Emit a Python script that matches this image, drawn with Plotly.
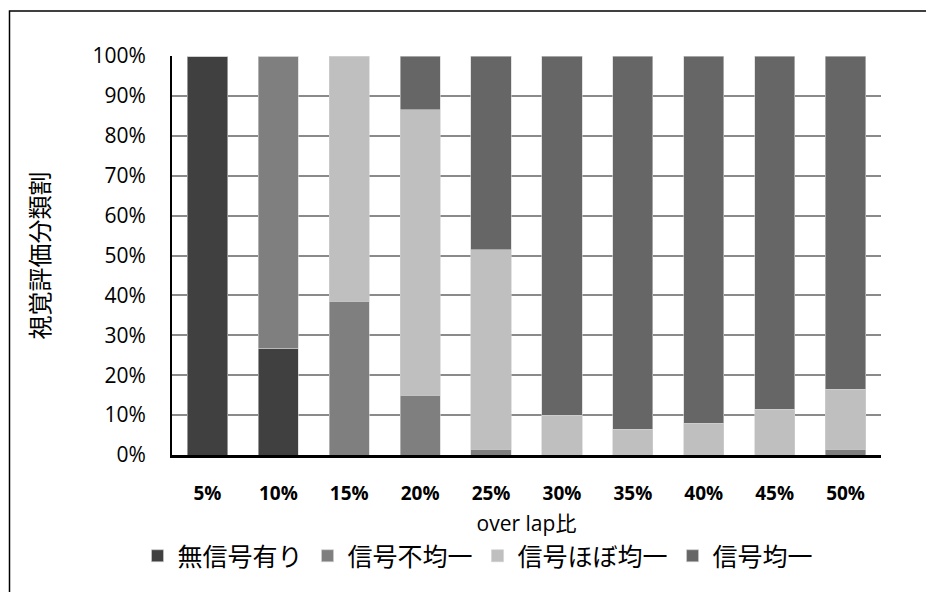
import plotly.graph_objects as go

# Overlap ratio categories
categories = ["5%", "10%", "15%", "20%", "25%", "30%", "35%", "40%", "45%", "50%"]

# Share (%) of each visual evaluation class per overlap ratio
no_signal = [100, 26.7, 0, 0, 0, 0, 0, 0, 0, 0]
uneven = [0, 73.3, 38.5, 15, 1.5, 0, 0, 0, 0, 1.5]
nearly_even = [0, 0, 61.5, 71.5, 50, 10, 6.5, 8, 11.5, 15]
even = [0, 0, 0, 13.5, 48.5, 90, 93.5, 92, 88.5, 83.5]

series_names = ["無信号有り", "信号不均一", "信号ほぼ均一", "信号均一"]
series_values = [no_signal, uneven, nearly_even, even]
series_colors = ["#404040", "#7f7f7f", "#bfbfbf", "#666666"]

y_ticks = list(range(0, 101, 10))
y_tick_text = [f"{v}%" for v in y_ticks]

fig = go.Figure()
for name, vals, col in zip(series_names, series_values, series_colors):
    fig.add_trace(go.Bar(
        x=categories, y=vals, name=name,
        marker=dict(color=col, line=dict(color="#d0d0d0", width=0.6)),
    ))

W, H = 926, 592
L, R, T, B = 172, 45, 56, 137
pw, ph = W - L - R, H - T - B


def px_x(p):
    return (p - L) / pw


def px_y(p):
    return (H - B - p) / ph


fig.update_layout(
    width=W, height=H,
    barmode="stack", bargap=0.434,
    plot_bgcolor="white", paper_bgcolor="white",
    margin=dict(l=L, r=R, t=T, b=B, autoexpand=False),
    font=dict(family="'Open Sans', 'Noto Sans CJK JP'", size=20, color="black"),
    xaxis=dict(
        showline=True, linecolor="black", linewidth=3,
        tickfont=dict(family="'Open Sans', 'Noto Sans CJK JP'", size=19, weight="bold"),
        ticks="", ticklabelstandoff=19,
        title=dict(text="over lap比", font=dict(family="'Open Sans', 'Noto Sans CJK JP'", size=21), standoff=12),
    ),
    yaxis=dict(
        range=[0, 100], tickvals=y_ticks, ticktext=y_tick_text,
        showline=True, linecolor="black", linewidth=2,
        showgrid=True, gridcolor="#8a8a8a", gridwidth=1.5,
        ticks="", ticklabelstandoff=20,
        tickfont=dict(family="'Open Sans', 'Noto Sans CJK JP'", size=21),
        title=dict(text="視覚評価分類割", font=dict(family="'Noto Sans CJK JP'", size=24), standoff=36),
        zeroline=False,
    ),
    legend=dict(
        orientation="h", x=px_x(478), xanchor="center", y=px_y(556), yanchor="middle",
        font=dict(family="'Noto Sans CJK JP'", size=25),
        itemwidth=30, traceorder="normal",
    ),
    shapes=[dict(
        type="rect", xref="paper", yref="paper",
        x0=px_x(9.5), x1=px_x(940), y0=px_y(610), y1=px_y(11),
        line=dict(color="black", width=1.5), fillcolor="rgba(0,0,0,0)", layer="below",
    )],
)

fig.write_html("out.html")
